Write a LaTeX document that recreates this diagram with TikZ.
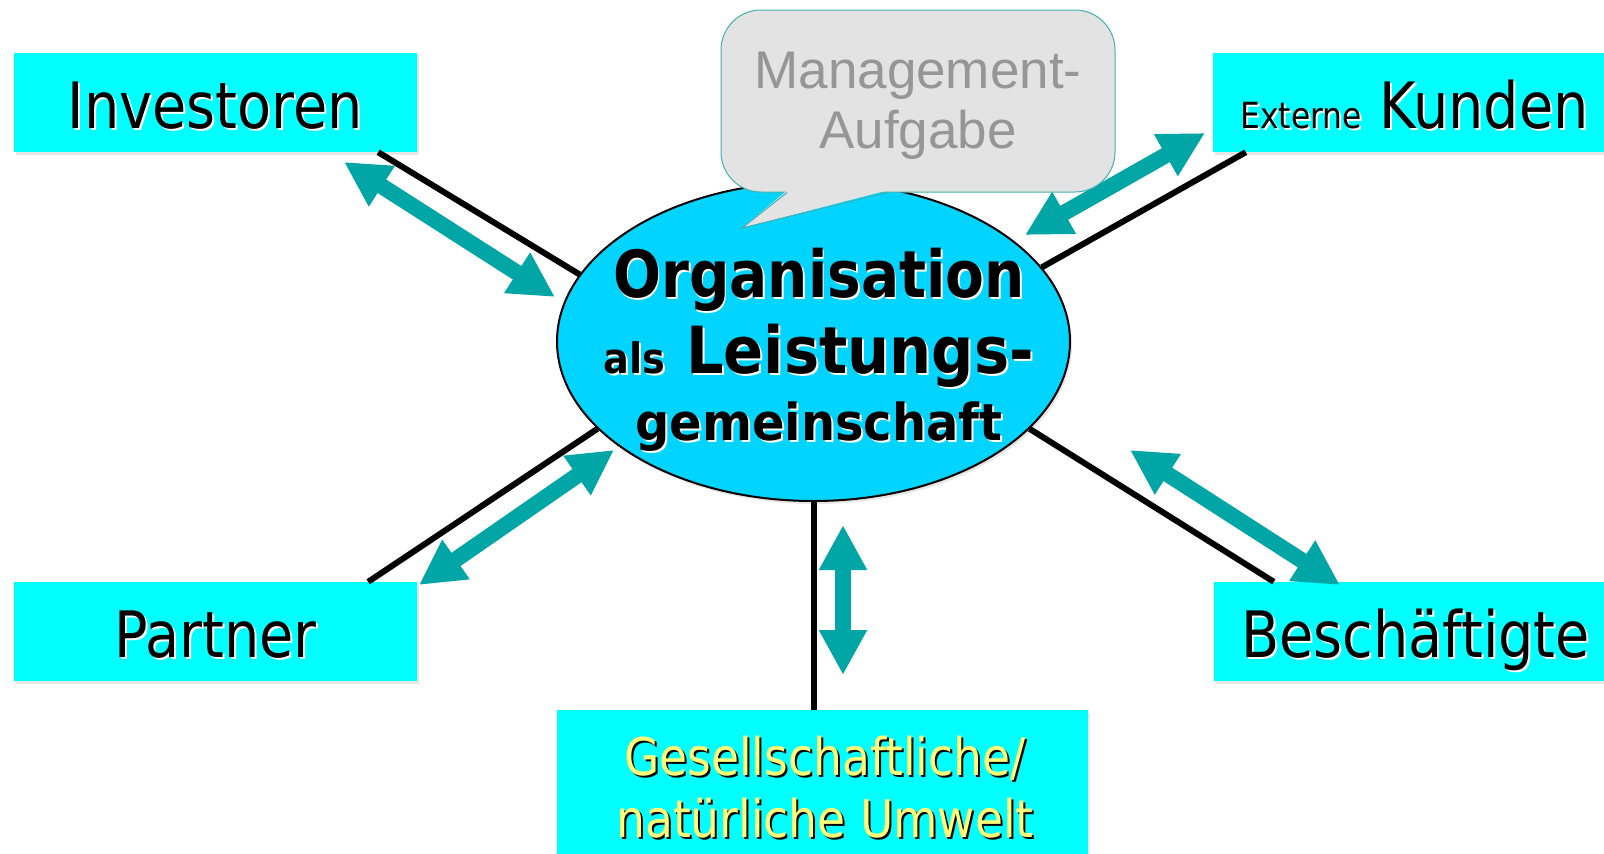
\documentclass[tikz,border=0pt]{standalone}
\usepackage{fontspec}
\usepackage{graphicx}
\usetikzlibrary{shapes.geometric,arrows.meta,shadows}
\newfontfamily\boxfont{DejaVu Sans}[FakeStretch=0.87]
\newfontfamily\envfont{DejaVu Sans}[FakeStretch=0.876]
\newfontfamily\orgfont{DejaVu Sans}
\newfontfamily\callfont{Liberation Sans}
\definecolor{boxcyan}{RGB}{0,255,255}
\definecolor{orgblue}{RGB}{0,212,255}
\definecolor{flowteal}{RGB}{0,166,166}
\definecolor{bubblegray}{RGB}{227,227,227}
\definecolor{bubbleline}{RGB}{70,175,175}
\definecolor{bubbletext}{RGB}{150,150,150}
\definecolor{envyellow}{RGB}{255,255,120}
% text with a small offset shadow behind it
\newcommand{\glow}[2]{\rlap{\kern2pt\raisebox{-2pt}{\color{#1}#2}}#2}

\begin{document}
\begin{tikzpicture}[x=1pt, y=-1pt,
    party/.style={rectangle, fill=boxcyan, minimum width=403pt, minimum height=99pt, inner sep=0pt,
      text height=51pt, text depth=0pt, font=\boxfont\fontsize{64}{70}\selectfont,
      drop shadow={opacity=0.2, shadow xshift=2pt, shadow yshift=-3pt}},
    hub/.style={ellipse, draw=black, line width=2pt, fill=orgblue, minimum width=513pt,
      minimum height=319pt, inner sep=0pt, drop shadow={opacity=0.2, shadow xshift=2pt, shadow yshift=-3pt}},
    hubtext/.style={anchor=base, inner sep=0pt, font=\orgfont\bfseries},
    envtext/.style={anchor=base, inner sep=0pt, text=envyellow, font=\envfont\fontsize{52}{60}\selectfont},
    bubble/.style={rectangle, rounded corners=40pt, draw=bubbleline, line width=1pt, fill=bubblegray,
      minimum width=394pt, minimum height=182pt},
    bubbletxt/.style={align=center, text=bubbletext, font=\callfont\fontsize{53}{60}\selectfont},
    link/.style={draw=black, line width=6pt},
    flow/.style={draw=flowteal, line width=16pt, >={Triangle[length=45pt,width=45pt]}, <->}
  ]
  \useasboundingbox (0,0) rectangle (1604,854);

  % stakeholder boxes
  \node[party] (inv) at (215.5,102.5) {\glow{white}{Investoren}};
  \node[party] (kund) at (1414.5,102.5) {{\fontsize{36}{40}\selectfont\glow{white}{Externe}} \glow{white}{Kunden}};
  \node[party] (part) at (215.5,631.5) {\glow{white}{Partner}};
  \node[party] (besch) at (1415.5,631.5) {\glow{white}{Beschäftigte}};
  \node[party, minimum width=531pt, minimum height=150pt] (umw) at (822.5,785) {};
  \node[envtext] (umw1) at (825,775) {\glow{black}{Gesellschaftliche/}};
  \node[envtext] (umw2) at (825,837) {\glow{black}{natürliche Umwelt}};

  % the organisation in the middle
  \node[hub] (org) at (813.5,341.5) {};
  \node[hubtext] (org1) at (819,297) {\fontsize{65}{70}\selectfont\scalebox{0.87}[1]{\glow{white}{Organisation}}};
  \node[hubtext] (org2) at (819,373) {\fontsize{65}{70}\selectfont\scalebox{0.91}[1]{{\fontsize{42}{44}\selectfont\glow{white}{als}} \glow{white}{Leistungs-}}};
  \node[hubtext] (org3) at (819,440) {\fontsize{51}{60}\selectfont\scalebox{0.94}[1]{\glow{white}{gemeinschaft}}};

  % lines out to the stakeholders
  \draw[link] ([xshift=-39pt]inv.south east) -- (org.164);
  \draw[link] ([xshift=33pt]kund.south west) -- (org.18);
  \draw[link] ([xshift=-49pt]part.north east) -- (org.202);
  \draw[link] ([xshift=60pt]besch.north west) -- (org.338);
  \draw[link] (org.south) -- (org.south |- umw.north);

  % exchange arrows
  \coordinate (inv-a) at (344,162);   \coordinate (inv-b) at (555,297);
  \coordinate (kund-a) at (1025,235); \coordinate (kund-b) at (1205,133);
  \coordinate (part-a) at (419,585);  \coordinate (part-b) at (614,450);
  \coordinate (besch-a) at (1130,450); \coordinate (besch-b) at (1340,585);
  \coordinate (umw-a) at (843,525);   \coordinate (umw-b) at (843,675);
  \draw[flow] (inv-a) -- (inv-b);
  \draw[flow] (kund-a) -- (kund-b);
  \draw[flow] (part-a) -- (part-b);
  \draw[flow] (besch-a) -- (besch-b);
  \draw[flow] (umw-a) -- (umw-b);

  % management bubble
  \node[bubble] (task) at (918,101) {};
  \coordinate (tip) at (742,228);
  \fill[bubblegray] ([xshift=-131pt,yshift=2pt]task.south) -- (tip) -- ([xshift=-31pt,yshift=2pt]task.south) -- cycle;
  \draw[bubbleline, line width=1pt] ([xshift=-131pt]task.south) -- (tip) -- ([xshift=-31pt]task.south);
  \node[bubbletxt] (tasktext) at (918,106) {Management-\\Aufgabe};
\end{tikzpicture}
\end{document}
